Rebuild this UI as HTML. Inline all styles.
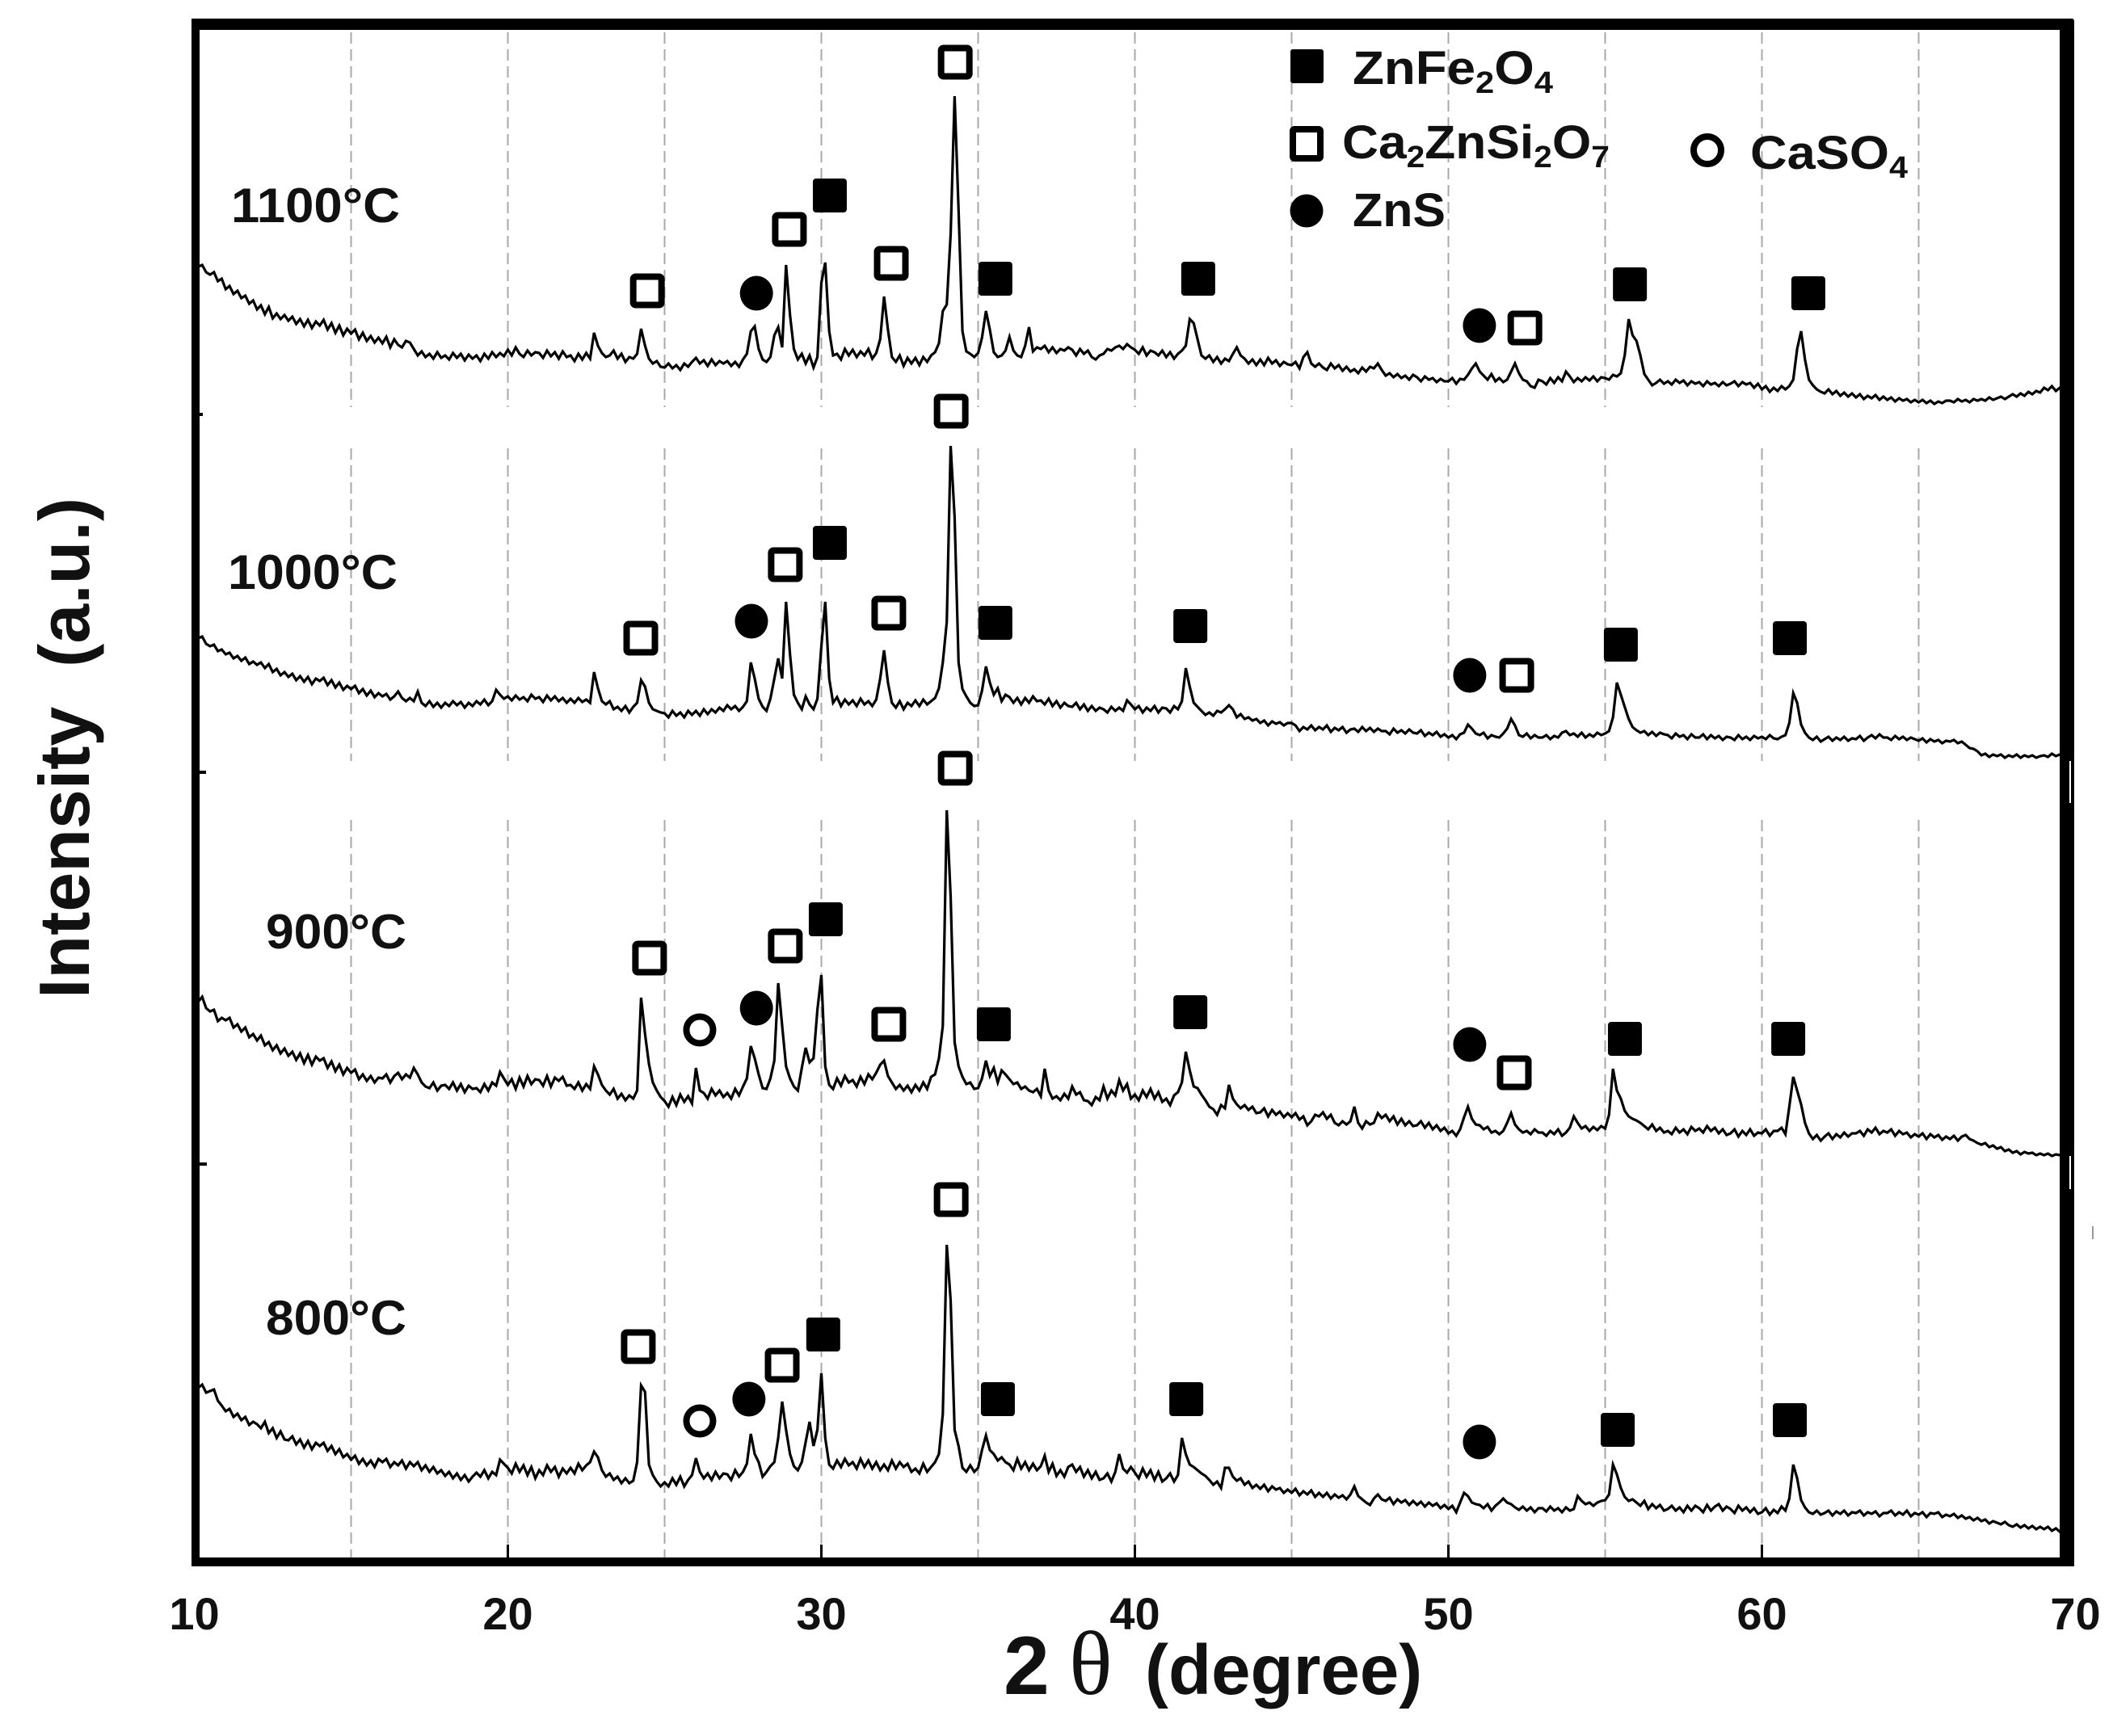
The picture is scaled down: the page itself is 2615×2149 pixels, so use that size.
<!DOCTYPE html>
<html>
<head>
<meta charset="utf-8">
<title>XRD patterns</title>
<style>
html,body{margin:0;padding:0;background:#fff}
svg{display:block}
text{font-family:"Liberation Sans",sans-serif;font-weight:700;fill:#111}
</style>
</head>
<body>
<svg id="chart" xmlns="http://www.w3.org/2000/svg" width="2615" height="2149" viewBox="0 0 2615 2149">
  <rect x="0" y="0" width="2615" height="2149" fill="#fff"/>
  <defs><clipPath id="plot-clip"><rect x="240" y="30" width="2310" height="1900"/></clipPath></defs>
  <g id="grid"></g>
  <g id="traces" clip-path="url(#plot-clip)"></g>
  <g id="marks"></g>
  <g fill="#000">
    <rect x="237" y="23" width="2330" height="14" rx="3"/>
    <rect x="237" y="23" width="10" height="1916"/>
    <rect x="237" y="1928" width="2330" height="11"/>
    <rect x="2549" y="27" width="18" height="1912"/>
    <rect x="2561" y="942" width="2" height="52" fill="#fff"/>
    <rect x="2561" y="1431" width="2" height="41" fill="#fff"/>
    <rect x="247" y="511" width="4" height="4"/>
    <rect x="247" y="954" width="8" height="4"/>
    <rect x="247" y="1439" width="9" height="4"/>
    <rect x="2589" y="1518" width="2" height="16" fill="#999"/>
  </g>
  <g id="xticks"></g>

  <text transform="translate(110 1236) rotate(-90)" font-size="88" textLength="620" lengthAdjust="spacingAndGlyphs" xml:space="preserve">Intensity  (a.u.)</text>
  <g>
    <text x="1242" y="2097" font-size="102">2</text>
    <text x="1323" y="2097" font-size="112" style='font-family:"Liberation Serif",serif;font-weight:400'>θ</text>
    <text x="1417" y="2097" font-size="87">(degree)</text>
  </g>

  <text x="286" y="275" font-size="60" textLength="209" lengthAdjust="spacingAndGlyphs">1100°C</text>
  <text x="282" y="729" font-size="60" textLength="210" lengthAdjust="spacingAndGlyphs">1000°C</text>
  <text x="329" y="1174" font-size="60" textLength="174" lengthAdjust="spacingAndGlyphs">900°C</text>
  <text x="329" y="1652" font-size="60" textLength="174" lengthAdjust="spacingAndGlyphs">800°C</text>

  <g>
    <rect x="1597" y="61" width="41" height="42" rx="3" fill="#000"/>
    <text x="1674" y="104" font-size="58" textLength="248" lengthAdjust="spacingAndGlyphs">ZnFe<tspan font-size="38" dy="11">2</tspan><tspan dy="-11">O</tspan><tspan font-size="38" dy="11">4</tspan></text>
    <rect x="1600" y="160" width="34" height="36" rx="2" fill="#fff" stroke="#000" stroke-width="8"/>
    <text x="1661" y="196" font-size="58" textLength="331" lengthAdjust="spacingAndGlyphs">Ca<tspan font-size="38" dy="11">2</tspan><tspan dy="-11">ZnSi</tspan><tspan font-size="38" dy="11">2</tspan><tspan dy="-11">O</tspan><tspan font-size="38" dy="11">7</tspan></text>
    <circle cx="1617" cy="261" r="20.5" fill="#000"/>
    <text x="1674" y="280" font-size="58" textLength="115" lengthAdjust="spacingAndGlyphs">ZnS</text>
    <circle cx="2113" cy="186" r="17" fill="#fff" stroke="#000" stroke-width="8"/>
    <text x="2166" y="209" font-size="58" textLength="195" lengthAdjust="spacingAndGlyphs">CaSO<tspan font-size="38" dy="11">4</tspan></text>
  </g>
</svg>
<script>
// 2θ sampling of every diffractogram: one value per 0.125°, 40 values per row = 5° per row
const thetaStart = 10;
const thetaStep = 0.125;
const xTickLabels = [10, 20, 30, 40, 50, 60, 70];
const gridThetas = [15, 20, 25, 30, 35, 40, 45, 50, 55, 60, 65];
const seriesNames = ['1100c', '1000c', '900c', '800c'];
const seriesOffsets = [1433, 993, 493, 33];

const intensity1100 = [
177,170,172,163,160,163,152,155,142,146,136,140,131,134,124,128,117,122,111,120,106,112,105,110,103,108,99,105,96,104,94,102,97,104,92,100,88,97,85,93,
87,92,80,88,78,84,76,82,75,83,70,80,73,70,78,76,68,60,65,58,62,56,64,57,60,55,63,57,62,54,61,56,60,53,62,56,64,58,63,59,
67,60,70,62,58,66,60,64,63,57,66,59,64,56,65,58,60,53,62,55,63,56,88,72,63,58,60,66,56,62,52,58,56,62,93,72,56,50,53,46,
45,50,44,48,42,50,46,52,57,50,54,47,55,48,53,50,53,47,52,46,55,62,90,96,68,55,52,58,85,95,70,172,110,68,55,62,50,60,45,58,
150,175,90,60,62,55,68,60,67,58,65,60,68,56,63,80,133,92,58,52,60,47,57,50,57,48,58,52,60,64,75,115,123,210,381,240,90,65,62,58,
63,82,115,92,64,58,60,66,83,66,60,58,72,95,65,70,68,72,64,70,63,68,66,70,67,60,68,62,66,58,55,60,62,68,66,70,72,68,74,70,
67,62,70,60,66,64,60,66,58,64,56,62,66,72,105,100,80,60,56,60,52,58,50,56,53,62,70,60,56,50,55,48,55,48,57,50,54,47,52,49,
48,52,44,58,64,50,46,50,45,42,50,44,48,41,46,40,43,38,45,40,46,44,50,42,35,38,33,37,32,35,30,36,33,28,34,30,32,27,31,28,
28,32,25,31,30,36,44,50,40,35,30,37,28,32,27,30,40,50,38,30,28,22,20,30,28,24,32,26,33,28,40,34,27,32,28,33,29,34,28,33,
32,30,36,34,38,60,105,85,78,60,37,30,23,26,30,25,28,24,30,26,29,23,28,25,27,22,28,24,26,22,27,23,25,28,22,27,24,26,20,25,
18,22,15,20,16,22,18,22,30,68,90,55,30,23,18,15,13,18,12,16,10,14,9,13,8,12,6,10,7,11,5,9,5,8,3,7,4,6,2,5,
2,5,1,4,0,3,1,4,4,2,6,3,5,2,6,4,6,4,8,5,7,9,6,9,12,9,13,10,15,12,16,14,20,17,22,16,20,15,18,14
];

const intensity1000 = [
157,150,152,143,140,142,134,136,130,132,125,128,122,126,118,121,117,120,113,118,108,112,104,108,102,106,98,103,96,102,93,100,97,101,92,98,89,95,86,91,
87,91,82,87,79,85,77,82,78,81,74,78,84,76,72,76,72,84,70,66,72,65,70,64,70,66,72,67,71,64,70,66,72,68,74,67,72,86,80,75,
78,73,79,74,77,72,80,75,77,71,79,73,78,72,76,70,75,70,76,71,74,70,108,88,72,68,72,62,65,60,66,58,65,70,98,90,70,62,60,58,
57,52,60,54,58,52,60,55,60,54,62,56,62,58,64,60,67,62,66,60,65,72,120,100,75,65,60,75,100,125,100,195,130,80,70,62,78,68,62,75,
140,195,100,70,77,66,74,68,73,66,75,68,72,66,74,100,135,95,70,64,72,62,70,66,73,66,74,68,72,76,88,120,170,388,300,120,87,78,70,66,
67,85,115,95,80,88,72,80,77,70,76,68,76,70,78,72,73,68,75,66,72,64,70,66,65,70,62,68,60,66,60,64,62,58,65,60,64,60,73,68,
62,66,58,64,60,66,58,64,63,58,66,62,72,113,90,70,65,60,55,58,54,60,58,62,67,62,52,56,50,52,48,50,45,48,42,47,44,46,42,45,
45,42,35,40,37,42,36,40,37,42,34,39,36,40,33,37,38,34,40,35,39,34,38,35,35,31,38,33,36,32,37,33,32,36,29,33,30,34,28,31,
27,30,25,31,33,43,38,32,30,33,26,30,28,27,32,38,50,42,30,28,32,26,30,27,27,30,25,29,27,33,35,30,32,28,33,27,31,28,33,30,
32,35,52,95,80,65,50,40,36,33,35,30,34,29,33,31,30,26,32,28,30,25,31,27,27,31,25,30,26,29,24,28,27,24,30,25,28,24,29,26,
28,25,30,26,25,28,30,45,82,70,43,33,27,24,28,22,25,28,23,27,24,28,23,26,25,29,23,27,30,26,31,27,27,24,29,25,28,24,27,25,
23,26,21,25,22,24,20,23,22,24,20,22,18,14,13,10,5,7,3,6,4,6,2,5,3,6,2,5,3,5,2,4,5,3,7,4,6,3,5,3
];

const intensity900 = [
217,200,206,192,188,190,176,180,177,180,168,172,163,168,156,160,152,158,146,150,140,146,136,142,133,138,128,136,124,134,122,132,127,130,118,126,114,122,110,118,
112,116,104,110,102,108,100,106,105,110,100,108,112,104,110,106,118,110,100,95,93,100,90,96,97,92,100,90,98,88,96,92,93,88,98,90,100,96,113,105,
97,104,92,106,95,108,98,104,103,96,108,95,106,102,107,96,97,92,100,90,98,92,120,110,97,90,85,92,80,86,78,84,80,90,205,160,123,100,90,82,
77,70,82,72,85,76,83,74,118,90,87,80,92,84,90,82,87,80,92,84,95,105,145,130,110,93,92,105,127,223,170,120,105,95,90,118,143,125,130,190,
233,120,97,92,105,96,108,100,103,95,107,98,110,104,112,122,127,108,100,92,97,90,96,88,97,90,100,92,107,110,130,170,437,330,150,120,107,98,100,92,
93,105,127,108,118,100,115,110,104,98,100,92,95,90,88,92,83,117,90,80,83,78,86,80,95,85,88,78,77,72,82,78,95,80,90,84,103,90,98,80,
85,78,90,82,92,80,88,76,80,72,84,88,100,138,115,95,93,85,78,70,67,60,72,68,97,80,73,68,72,66,70,62,63,68,58,66,60,64,57,62,
57,62,54,58,47,52,60,58,63,55,60,50,47,52,48,52,70,50,43,52,48,50,62,56,60,52,58,48,55,47,52,46,47,52,44,50,42,47,40,44,
37,40,34,42,57,70,55,48,47,42,45,38,40,36,40,50,62,48,42,38,40,36,42,38,38,34,40,36,42,34,38,44,58,50,43,46,40,45,41,46,
43,60,117,90,80,65,58,55,53,50,46,42,48,40,44,38,40,36,44,38,42,36,45,40,43,38,46,40,44,37,42,35,37,42,33,40,35,42,34,38,
37,42,34,40,40,44,36,70,107,90,73,50,37,30,35,28,33,37,30,36,32,38,33,37,37,40,34,42,38,44,36,40,38,42,34,40,36,38,32,36,
33,37,30,36,32,35,29,33,30,34,28,33,35,30,28,25,23,25,20,22,18,20,15,17,13,15,11,14,12,13,10,12,10,12,9,11,10,12,9,11
];

const intensity800 = [
190,182,186,176,178,180,166,160,153,156,146,150,142,146,136,140,137,132,140,126,132,120,128,118,117,122,112,118,108,116,106,114,110,114,104,110,100,106,96,100,
93,98,88,94,86,92,84,94,90,94,84,90,86,92,82,90,85,90,80,86,78,84,76,80,73,78,70,76,68,74,66,72,77,72,80,70,78,74,93,88,
83,76,88,78,86,74,84,70,80,74,86,78,84,72,82,76,83,76,88,80,86,90,103,96,80,72,76,68,72,64,70,64,67,90,185,177,87,74,66,60,
65,60,70,62,72,60,68,74,95,78,70,76,68,78,70,76,75,68,80,72,78,88,125,100,90,72,78,85,90,120,165,130,100,85,80,90,115,140,110,130,
200,120,87,82,92,84,94,86,90,82,94,84,92,82,90,80,87,80,92,82,90,84,88,78,82,76,88,78,84,90,100,150,359,290,130,110,83,78,86,78,
83,105,123,105,100,92,96,90,87,80,94,82,90,80,88,80,85,98,78,88,73,80,72,84,87,78,84,72,80,70,78,68,70,76,66,78,100,82,77,84,
77,70,82,72,80,68,78,66,70,76,66,74,120,100,87,84,80,76,73,68,62,66,58,83,83,72,67,70,62,66,58,62,57,62,54,60,56,58,52,56,
52,57,49,54,50,55,47,52,47,52,45,50,46,49,44,50,60,48,44,40,37,45,50,44,42,46,38,44,40,43,37,42,37,41,35,40,36,39,33,37,
32,36,28,40,52,48,40,38,37,33,38,30,36,40,45,40,38,34,31,35,30,34,28,33,33,29,35,30,33,28,34,30,32,48,42,38,40,36,40,42,
43,50,87,75,58,47,42,44,40,36,42,32,38,33,37,30,32,36,30,34,28,36,30,36,33,28,37,30,35,38,30,35,32,27,36,30,34,28,33,26,
28,33,25,31,27,35,30,45,87,70,43,34,28,26,30,25,27,30,24,29,26,30,24,28,27,30,24,28,26,29,23,27,27,30,24,28,25,30,23,27,
25,28,22,27,26,28,22,25,23,26,21,24,20,22,18,21,17,19,14,17,15,13,16,12,10,13,9,12,8,11,7,10,7,10,5,8,4,7,3,5
];

// phase marker annotations: 2θ position and stacked intensity
const znFe2O4Theta = [30.27,35.55,42.02,55.79,61.48,30.27,35.55,41.77,55.50,60.89,30.14,35.50,41.77,55.63,60.84,30.06,35.63,41.64,55.40,60.89];
const znFe2O4Level = [1691,1588,1588,1581,1570,1261,1162,1158,1135,1143,795,665,680,647,647,281,201,201,163,175];
const silicateTheta = [34.27,28.98,24.45,32.23,52.44,34.14,28.85,24.24,32.15,52.18,34.27,28.85,24.52,32.15,52.10,34.14,28.75,24.16];
const silicateLevel = [1856,1649,1573,1607,1527,1424,1234,1143,1174,1097,982,762,747,665,605,448,243,266];
const znSTheta = [27.93,50.99,27.77,50.68,27.93,50.68,27.69,50.99];
const znSLevel = [1570,1530,1164,1097,685,640,201,148];
const caSO4Theta = [26.12,26.12];
const caSO4Level = [658,174];

const seriesValues = [intensity1100, intensity1000, intensity900, intensity800];

const SVGNS = 'http://www.w3.org/2000/svg';
function xScale(t) { return 240.5 + (t - 10) * 38.8; }
function yScale(v) { return 1933 - v; }
function make(tag, attrs, parent) {
  const el = document.createElementNS(SVGNS, tag);
  for (const k in attrs) el.setAttribute(k, attrs[k]);
  parent.appendChild(el);
  return el;
}

const gridLayer = document.getElementById('grid');
const gridSpans = [[40, 504], [555, 942], [1015, 1928]];
gridThetas.forEach(function (t) {
  gridSpans.forEach(function (s) {
    const line = make('line', {x1: xScale(t), x2: xScale(t), y1: s[0], y2: s[1], stroke: '#a8a8a8', 'stroke-width': 2, 'stroke-dasharray': '14 7'}, gridLayer);
    
    
  });
});

const tickLayer = document.getElementById('xticks');
xTickLabels.forEach(function (t) {
  if (t > 10 && t < 70) {
    const tick = make('line', {x1: xScale(t), x2: xScale(t), y1: 1912, y2: 1930, stroke: '#000', 'stroke-width': 3}, tickLayer);
    
    
  }
  const label = make('text', {x: xScale(t), y: 2017, 'font-size': 56, 'text-anchor': 'middle'}, tickLayer);
  label.textContent = t;
  
  
});

const traceLayer = document.getElementById('traces');
seriesValues.forEach(function (vals, s) {
  const pts = vals.map(function (v, i) {
    const t = thetaStart + i * thetaStep;
    return xScale(t).toFixed(1) + ',' + yScale(v + seriesOffsets[s]).toFixed(1);
  }).join(' ');
  const path = make('polyline', {points: pts, fill: 'none', stroke: '#000', 'stroke-width': 3.2, 'stroke-linejoin': 'miter', 'stroke-miterlimit': 4}, traceLayer);
  
  
});

const markLayer = document.getElementById('marks');
znFe2O4Theta.forEach(function (t, i) {
  const x = xScale(t), y = yScale(znFe2O4Level[i]);
  const m = make('rect', {x: x - 21, y: y - 21, width: 42, height: 42, rx: 4, fill: '#000'}, markLayer);
  
  
});
silicateTheta.forEach(function (t, i) {
  const x = xScale(t), y = yScale(silicateLevel[i]);
  const m = make('rect', {x: x - 17.5, y: y - 17.5, width: 35, height: 35, rx: 3, fill: '#fff', stroke: '#000', 'stroke-width': 8}, markLayer);
  
  
});
znSTheta.forEach(function (t, i) {
  const x = xScale(t), y = yScale(znSLevel[i]);
  const m = make('ellipse', {cx: x, cy: y, rx: 20.5, ry: 21.5, fill: '#000'}, markLayer);
  
  
});
caSO4Theta.forEach(function (t, i) {
  const x = xScale(t), y = yScale(caSO4Level[i]);
  const m = make('circle', {cx: x, cy: y, r: 16.5, fill: '#fff', stroke: '#000', 'stroke-width': 8}, markLayer);
  
  
});
</script>
</body>
</html>
